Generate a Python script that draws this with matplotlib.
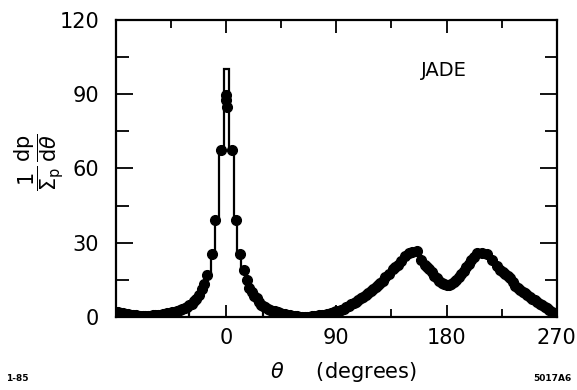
import numpy as np
import matplotlib
matplotlib.use("Agg")
from matplotlib import pyplot as plt
from matplotlib.ticker import MultipleLocator

# measured points (theta in degrees, normalised rate)
theta = [-90, -88, -86, -84, -82, -80, -78, -76, -74, -72, -70, -68, -66, -64,
         -62, -60, -58, -56, -54, -52, -50, -48, -46, -44, -42, -40, -38, -36,
         -34, -32, -30, -28, -26, -24.5, -22, -20, -18, -16, -11.5, -9, -4,
         -0.5, 0, 0.5,
         5, 8, 11.5, 14.5, 17, 19, 21, 23, 25, 27, 28.5, 30, 32, 34, 36, 38,
         40, 42, 44, 46, 48, 50, 52, 54, 56, 58, 60, 62, 64, 66, 68, 70, 72,
         74, 76, 78, 80, 82, 84, 86, 88, 90, 92, 94, 96, 98, 100, 102, 104,
         106, 108, 110, 112, 114, 116, 118, 120, 122, 124, 126, 128, 130, 133,
         136, 138, 140, 143, 146, 149, 152, 156, 159, 162, 164, 166, 168, 170,
         172, 174, 176, 178, 180, 182, 184, 186, 188, 190, 192, 194, 196, 198,
         200, 202, 205, 209, 213, 217, 221, 224, 226, 228, 230, 232, 234, 236,
         238, 240, 242, 244, 246, 248, 250, 252, 254, 256, 258, 260, 262, 264,
         266, 268, 270]
rate = [2.1, 1.9, 1.7, 1.5, 1.3, 1.1, 1.0, 0.8, 0.7, 0.6, 0.5, 0.5, 0.5, 0.5,
        0.6, 0.7, 0.8, 0.9, 1.0, 1.1, 1.3, 1.5, 1.7, 1.9, 2.1, 2.4, 2.8, 3.2,
        3.6, 4.1, 4.8, 5.4, 6.3, 7.4, 9.0, 11.5, 13.5, 17.0, 25.5, 39.0, 67.5,
        89.5, 87.5, 85.0,
        67.5, 39.0, 25.5, 19.0, 15.0, 11.6, 10.0, 8.6, 7.6, 6.0, 5.0, 4.5,
        3.9, 3.4, 3.0, 2.6,
        2.3, 1.9, 1.6, 1.3, 1.1, 0.9, 0.7, 0.5, 0.4, 0.3, 0.2, 0.15, 0.1,
        0.15, 0.2, 0.3, 0.4,
        0.55, 0.7, 0.85, 1.0, 1.2, 1.4, 1.7, 2.0, 2.3, 2.6, 3.0, 3.4, 4.0,
        4.6, 5.1, 5.6,
        6.2, 6.8, 7.5, 8.2, 9.0, 9.8, 10.6, 11.4, 12.2, 13.0, 13.8, 14.6,
        16.3, 17.5,
        19.6, 20.4, 21.2, 22.6, 24.6, 25.8, 26.3, 26.5, 23.2, 21.0, 20.2, 19.6,
        18.0, 16.6,
        15.6, 14.6, 13.9, 13.4, 13.1, 13.0, 13.5, 14.2, 15.0, 16.0, 17.3, 18.8,
        20.2, 21.6,
        23.0, 24.4, 25.8, 26.0, 25.6, 23.0, 20.5, 19.2, 18.2, 17.2, 16.5, 15.8,
        14.2, 12.6,
        11.8, 11.0, 10.3, 9.6, 8.8, 8.0, 7.4, 6.8, 6.1, 5.4, 4.8, 4.2, 3.6, 3.0,
        2.2, 1.8, 1.4]

# model histogram near the forward peak
model_edges = [-30, -25, -20, -17, -12, -9, -6, -2, 2, 6, 9, 12, 17, 20, 25, 30]
model_vals = [5.5, 8.5, 12, 18, 26, 39, 68, 100, 68, 39, 26, 18, 12, 8.5, 5.5]

plt.rcParams['font.family'] = ['DejaVu Sans']
fig = plt.figure(figsize=(5.77, 3.9), dpi=100)
ax = fig.add_axes([0.201, 0.187, 0.764, 0.762])

ax.stairs(model_vals, model_edges, color='black', lw=1.6)
ax.plot(theta, rate, 'o', color='black', ms=7, mec='black')

ax.set_xlim(-90, 270)
ax.set_ylim(0, 120)
ax.xaxis.set_minor_locator(MultipleLocator(45))
ax.yaxis.set_major_locator(MultipleLocator(30))
ax.yaxis.set_minor_locator(MultipleLocator(15))
ax.set_xticks([0, 90, 180, 270])
ax.set_xticklabels(['0', '90', '180', '270'])

ax.tick_params(which='both', direction='in', top=True, right=True, width=1.3,
               labelsize=15)
ax.tick_params(axis='x', which='major', length=9, pad=8)
ax.tick_params(axis='x', which='minor', length=5.5)
ax.tick_params(axis='y', which='major', length=12, pad=12)
ax.tick_params(axis='y', which='minor', length=9)
for sp in ax.spines.values():
    sp.set_linewidth(1.6)

ax.text(0.744, 0.83, 'JADE', transform=ax.transAxes, fontsize=14,
        ha='center', va='center')
fig.text(0.595, 0.045, r'$\theta$     (degrees)', fontsize=15, ha='center',
         va='center')
fig.text(0.068, 0.585,
         r'$\dfrac{1}{\Sigma_\mathrm{p}}\,\dfrac{\mathrm{dp}}{\mathrm{d}\theta}$',
         rotation=90, fontsize=15, ha='center', va='center')
fig.text(0.01, 0.03, '1-85', fontsize=6.5, fontweight='bold', ha='left',
         va='center')
fig.text(0.99, 0.03, '5017A6', fontsize=6.5, fontweight='bold', ha='right',
         va='center')

fig.savefig('out.png', dpi=100)
